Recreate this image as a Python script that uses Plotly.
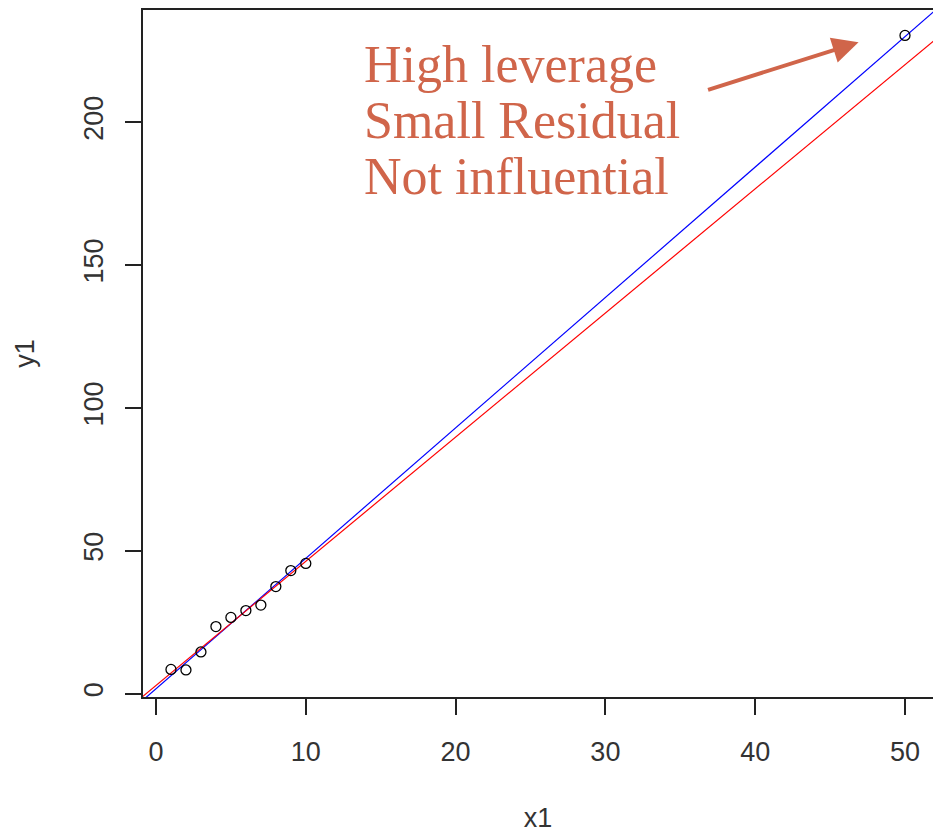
import numpy as np
import plotly.graph_objects as go

# Data
x1 = [1, 2, 3, 4, 5, 6, 7, 8, 9, 10, 50]
y1 = [8.5, 8.3, 14.6, 23.5, 26.7, 29.1, 31.0, 37.5, 43.1, 45.6, 230.4]
x_ticks = [0, 10, 20, 30, 40, 50]
y_ticks = [0, 50, 100, 150, 200]
note_lines = ["High leverage", "Small Residual", "Not influential"]

# regression lines (abline(lm(...))) : blue = all points, red = without the high-leverage point
b_all = np.polyfit(x1, y1, 1)
b_sub = np.polyfit(x1[:-1], y1[:-1], 1)
xl = np.array([-5, 60])

W, H = 933, 833
L, R, T, B = 143, 0, 10, 136
x_range = [-0.868, 51.87]
y_range = [-1.16, 239.3]

fig = go.Figure()
fig.add_trace(go.Scatter(x=xl, y=np.polyval(b_all, xl), mode="lines",
                         line=dict(color="#0000FF", width=1.2), showlegend=False))
fig.add_trace(go.Scatter(x=xl, y=np.polyval(b_sub, xl), mode="lines",
                         line=dict(color="#FF0000", width=1.2), showlegend=False))
fig.add_trace(go.Scatter(x=x1, y=y1, mode="markers",
                         marker=dict(symbol="circle-open", size=10, color="black",
                                     line=dict(width=1.3, color="black")),
                         showlegend=False))

note_color = "#D0654A"
note_font = dict(family="Liberation Serif", size=52, color=note_color)
note_y = [220.4, 200.8, 180.9]
for txt, yy in zip(note_lines, note_y):
    fig.add_annotation(x=13.75, y=yy, xref="x", yref="y", text=txt, showarrow=False,
                       xanchor="left", yanchor="middle", font=note_font)

# arrow pointing at the high-leverage point
fig.add_annotation(x=46.9, y=228.0, xref="x", yref="y", ax=-152, ay=48, text="",
                   showarrow=True, arrowhead=2, arrowsize=1.3, arrowwidth=4,
                   arrowcolor=note_color)

axis_font = dict(family="Liberation Sans", size=27, color="#333333")
fig.update_xaxes(range=x_range, tickvals=x_ticks, ticks="outside", ticklen=16,
                 tickwidth=1.5, tickcolor="#222222", showline=True, mirror=True,
                 linewidth=1.5, linecolor="#222222", showgrid=False, zeroline=False,
                 tickfont=axis_font, ticklabelstandoff=14,
                 title=dict(text="x1", font=axis_font, standoff=45))
fig.update_yaxes(range=y_range, tickvals=y_ticks, ticks="outside", ticklen=16,
                 tickwidth=1.5, tickcolor="#222222", showline=True, mirror=True,
                 linewidth=1.5, linecolor="#222222", showgrid=False, zeroline=False,
                 tickfont=axis_font, tickangle=-90, ticklabelstandoff=11,
                 title=dict(text="y1", font=axis_font, standoff=37))

fig.update_layout(width=W, height=H, margin=dict(l=L, r=R, t=T, b=B, autoexpand=False),
                  plot_bgcolor="white", paper_bgcolor="white")

fig.write_html("out.html")
